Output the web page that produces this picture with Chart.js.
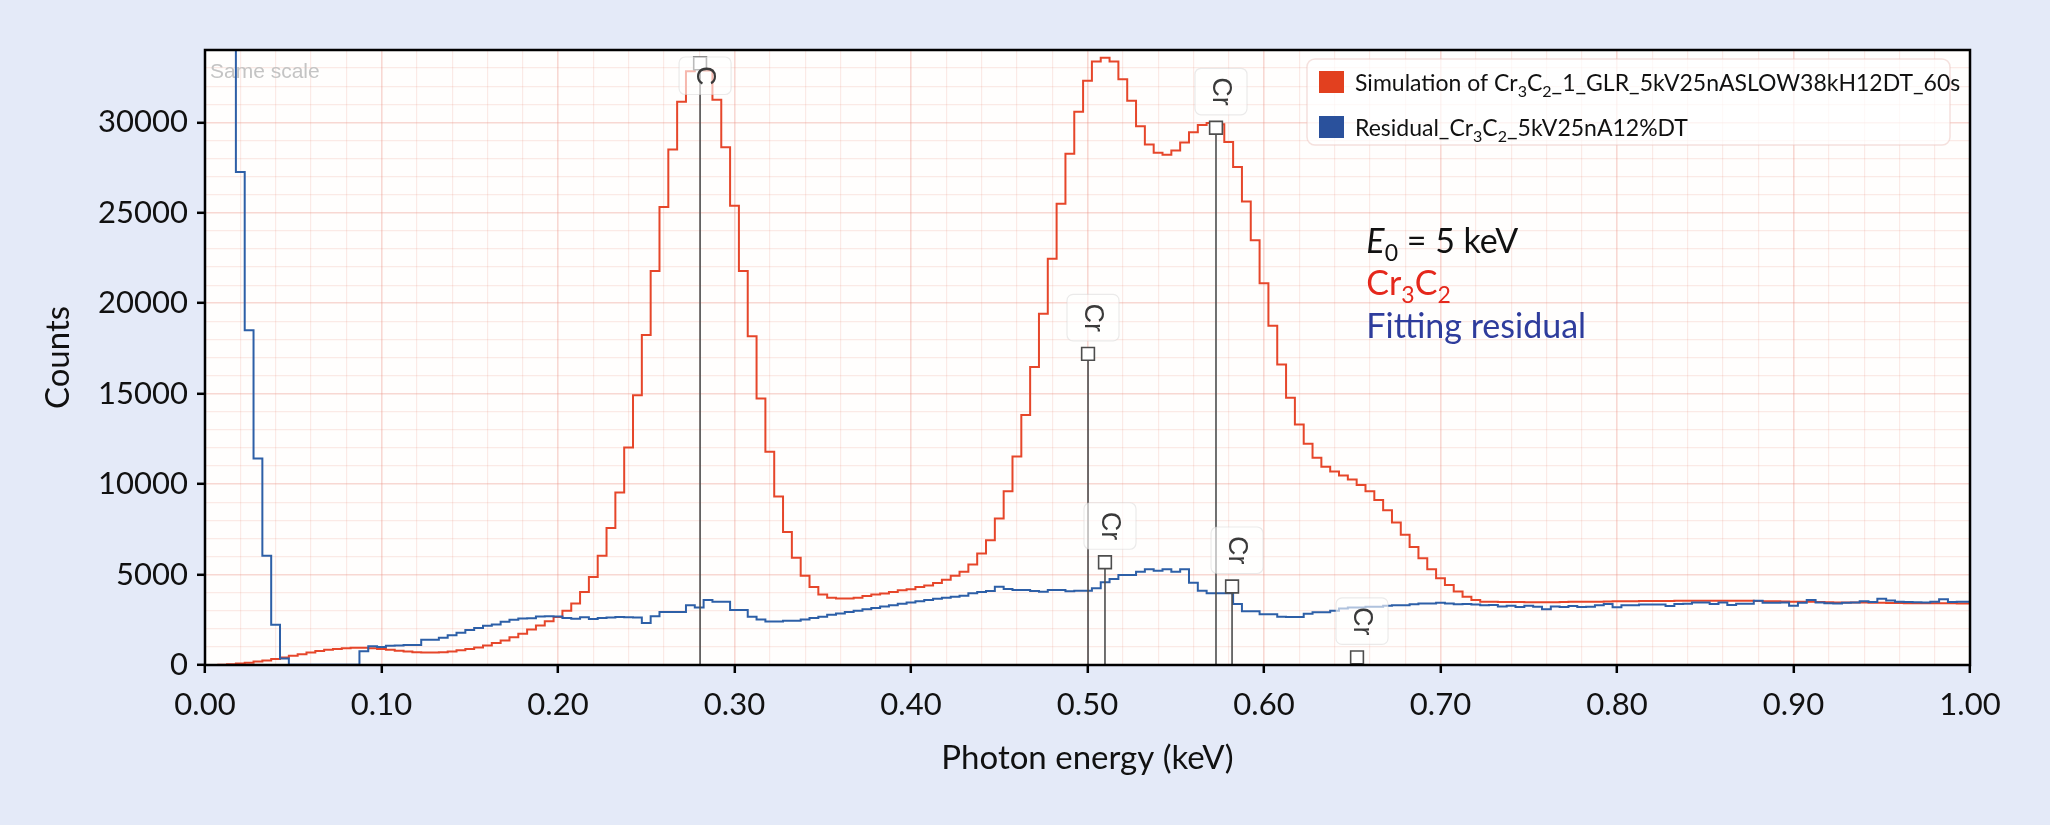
<!DOCTYPE html>
<html><head><meta charset="utf-8">
<script src="https://cdn.jsdelivr.net/npm/chart.js@4.4.0/dist/chart.umd.min.js"></script>
<style>html,body{margin:0;padding:0;background:#e4eaf8;overflow:hidden}</style>
</head><body>
<canvas id="c" width="2050" height="825"></canvas>
<script>
// ---- data (bin centres in keV, 5 eV bins) ----
const energy = [
0.000,0.005,0.010,0.015,0.020,0.025,0.030,0.035,0.040,0.045,
0.050,0.055,0.060,0.065,0.070,0.075,0.080,0.085,0.090,0.095,
0.100,0.105,0.110,0.115,0.120,0.125,0.130,0.135,0.140,0.145,
0.150,0.155,0.160,0.165,0.170,0.175,0.180,0.185,0.190,0.195,
0.200,0.205,0.210,0.215,0.220,0.225,0.230,0.235,0.240,0.245,
0.250,0.255,0.260,0.265,0.270,0.275,0.280,0.285,0.290,0.295,
0.300,0.305,0.310,0.315,0.320,0.325,0.330,0.335,0.340,0.345,
0.350,0.355,0.360,0.365,0.370,0.375,0.380,0.385,0.390,0.395,
0.400,0.405,0.410,0.415,0.420,0.425,0.430,0.435,0.440,0.445,
0.450,0.455,0.460,0.465,0.470,0.475,0.480,0.485,0.490,0.495,
0.500,0.505,0.510,0.515,0.520,0.525,0.530,0.535,0.540,0.545,
0.550,0.555,0.560,0.565,0.570,0.575,0.580,0.585,0.590,0.595,
0.600,0.605,0.610,0.615,0.620,0.625,0.630,0.635,0.640,0.645,
0.650,0.655,0.660,0.665,0.670,0.675,0.680,0.685,0.690,0.695,
0.700,0.705,0.710,0.715,0.720,0.725,0.730,0.735,0.740,0.745,
0.750,0.755,0.760,0.765,0.770,0.775,0.780,0.785,0.790,0.795,
0.800,0.805,0.810,0.815,0.820,0.825,0.830,0.835,0.840,0.845,
0.850,0.855,0.860,0.865,0.870,0.875,0.880,0.885,0.890,0.895,
0.900,0.905,0.910,0.915,0.920,0.925,0.930,0.935,0.940,0.945,
0.950,0.955,0.960,0.965,0.970,0.975,0.980,0.985,0.990,0.995,
1.000];

const simulation = [
0,5,15,40,80,130,190,250,330,420,
510,600,690,770,840,890,930,950,950,930,
890,840,790,740,710,690,690,710,750,810,
880,970,1080,1210,1360,1530,1730,1960,2180,2420,
2660,3000,3400,4040,4870,6040,7580,9540,12020,14910,
18250,21780,25320,28500,31140,32830,33440,32870,31250,28620,
25390,21780,18170,14730,11790,9310,7350,5930,4940,4310,
3900,3720,3680,3680,3720,3810,3900,3950,4040,4130,
4190,4310,4400,4530,4710,4940,5160,5550,6160,6900,
8100,9610,11520,13820,16480,19420,22460,25500,28260,30580,
32300,33370,33570,33370,32380,31190,29790,28770,28320,28210,
28440,28890,29450,29850,29960,29900,28910,27530,25630,23480,
21100,18760,16610,14780,13300,12230,11460,10960,10700,10480,
10250,9950,9600,9120,8550,7880,7200,6520,5900,5300,
4800,4420,4060,3780,3600,3500,3490,3480,3480,3480,
3470,3470,3470,3470,3480,3490,3490,3500,3500,3510,
3520,3520,3530,3540,3540,3540,3540,3550,3550,3550,
3550,3550,3550,3550,3550,3550,3540,3530,3520,3510,
3500,3490,3490,3480,3470,3460,3460,3450,3450,3440,
3440,3430,3430,3420,3420,3420,3410,3410,3410,3400,
3400];

const residual = [
95000,80000,62000,44000,27260,18510,11410,6040,2230,360,
20,10,10,10,10,10,10,10,760,1040,
1000,1060,1080,1100,1110,1400,1400,1500,1650,1780,
1940,2050,2170,2240,2390,2500,2570,2580,2680,2690,
2680,2600,2560,2640,2550,2600,2620,2650,2640,2620,
2320,2700,2930,2930,2930,3310,3180,3590,3500,3500,
3040,3040,2670,2520,2410,2410,2450,2450,2520,2600,
2670,2780,2850,2930,3000,3080,3150,3230,3300,3380,
3460,3530,3590,3660,3720,3780,3830,3960,4030,4090,
4330,4200,4140,4140,4090,4050,4140,4140,4080,4110,
4110,4240,4570,4750,4970,4970,5160,5290,5210,5300,
5160,5290,4550,4110,3960,3960,3960,3370,2970,2970,
2800,2800,2670,2660,2660,2840,2910,2910,3000,3130,
3180,3180,3220,3220,3270,3310,3310,3360,3400,3400,
3440,3400,3360,3370,3340,3300,3320,3230,3270,3200,
3270,3220,3080,3230,3210,3260,3210,3220,3300,3370,
3190,3300,3310,3350,3350,3340,3260,3370,3380,3460,
3460,3370,3460,3320,3390,3380,3550,3440,3440,3450,
3270,3440,3590,3450,3410,3400,3440,3450,3530,3480,
3660,3560,3500,3480,3470,3450,3500,3640,3480,3490,
3500];

const seriesLabels = ['Simulation of Cr\u2083C\u2082_1_GLR_5kV25nASLOW38kH12DT_60s', 'Residual_Cr\u2083C\u2082_5kV25nA12%DT'];
const seriesColors = ['#e6462a', '#2d5fa7'];
const swatchColors = ['#e2401f', '#2a519c'];

const markerEnergy = [0.2805, 0.5003, 0.5099, 0.5728, 0.5819, 0.6527];
const markerHeight = [33260, 17200, 5680, 29700, 4340, 420];
const markerLabel  = ['C', 'Cr', 'Cr', 'Cr', 'Cr', 'Cr'];

const yTickLabels = [0, 5000, 10000, 15000, 20000, 25000, 30000];
const xTickLabels = ['0.00','0.10','0.20','0.30','0.40','0.50','0.60','0.70','0.80','0.90','1.00'];

const noteLines = ['E\u2080 = 5 keV', 'Cr\u2083C\u2082', 'Fitting residual'];
const noteColors = ['#111111', '#e5281c', '#2e3c9c'];
const noteEnergy = 0.658;
const noteCounts = [22760, 20440, 18070];
const cornerNote = 'Same scale';

// ---- helpers ----
const FAM = 'Lato, "Open Sans", sans-serif';
function isMajorX(v) { return Math.round(v * 100) % 10 === 0; }
function isMajorY(v) { return Math.round(v) % 5000 === 0; }

function drawRich(ctx, str, x, y, size) {
  // draw string, turning unicode subscript digits into lowered small digits
  let cx = x; let run = ''; let runSub = null;
  const flush = () => {
    if (!run) return;
    if (runSub) {
      ctx.font = `${Math.round(size * 0.68)}px ${FAM}`;
      ctx.fillText(run, cx, y + size * 0.24);
    } else {
      ctx.font = `${size}px ${FAM}`;
      ctx.fillText(run, cx, y);
    }
    cx += ctx.measureText(run).width;
    run = '';
  };
  for (const ch of str) {
    const code = ch.charCodeAt(0);
    const sub = code >= 0x2080 && code <= 0x2089;
    const c = sub ? String(code - 0x2080) : ch;
    if (runSub === null) runSub = sub;
    if (sub !== runSub) { flush(); runSub = sub; }
    run += c;
  }
  flush();
  return cx;
}

const decor = {
  id: 'decor',
  beforeDraw(chart) {
    const {ctx, chartArea: a, width, height} = chart;
    ctx.save();
    ctx.fillStyle = '#e4eaf8';
    ctx.fillRect(0, 0, width, height);
    ctx.fillStyle = '#fffefd';
    ctx.fillRect(a.left, a.top, a.right - a.left, a.bottom - a.top);
    ctx.restore();
  },
  beforeDatasetsDraw(chart) {
    const {ctx, chartArea: a} = chart;
    ctx.save();
    ctx.font = '21px "Liberation Sans", Arial, sans-serif';
    ctx.fillStyle = '#c4c4c4';
    ctx.textBaseline = 'alphabetic';
    ctx.fillText(cornerNote, a.left + 5, a.top + 28);
    ctx.restore();
  },
  afterDatasetsDraw(chart) {
    const {ctx, chartArea: a, scales: {x, y}} = chart;
    ctx.save();
    // frame
    ctx.strokeStyle = '#000';
    ctx.lineWidth = 2.5;
    ctx.strokeRect(a.left, a.top, a.right - a.left, a.bottom - a.top);

    // element marker labels
    markerEnergy.forEach((e, i) => {
      const px = x.getPixelForValue(e);
      const py = y.getPixelForValue(markerHeight[i]);
      ctx.font = '27px "Liberation Sans", Arial, sans-serif';
      const tw = ctx.measureText(markerLabel[i]).width;
      const bw = 52, bh = tw + 18;
      let top = py - 13 - bh;
      if (top < a.top + 7) top = a.top + 7;
      const cx = px + 5;
      ctx.beginPath();
      ctx.roundRect(cx - bw / 2, top, bw, bh, 6);
      ctx.fillStyle = 'rgba(255,255,255,0.62)';
      ctx.fill();
      ctx.strokeStyle = 'rgba(210,210,210,0.45)';
      ctx.lineWidth = 1.2;
      ctx.stroke();
      ctx.save();
      ctx.translate(px + 4, top + bh / 2);
      ctx.rotate(Math.PI / 2);
      ctx.fillStyle = '#3a3a3a';
      ctx.textAlign = 'center';
      ctx.textBaseline = 'middle';
      ctx.fillText(markerLabel[i], 0, 0);
      ctx.restore();
    });

    // legend box
    const lw = 643, lh = 86;
    const lx = a.right - 20 - lw, ly = a.top + 9;
    ctx.beginPath();
    ctx.roundRect(lx, ly, lw, lh, 8);
    ctx.fillStyle = 'rgba(255,255,255,0.72)';
    ctx.fill();
    ctx.strokeStyle = 'rgba(235,195,190,0.5)';
    ctx.lineWidth = 1.5;
    ctx.stroke();
    chart.data.datasets.slice(0, 2).forEach((ds, i) => {
      const rc = ly + 23 + i * 45;
      ctx.fillStyle = swatchColors[i];
      ctx.fillRect(lx + 12, rc - 11, 25, 22);
      ctx.fillStyle = '#111';
      ctx.textAlign = 'left';
      ctx.textBaseline = 'alphabetic';
      drawRich(ctx, ds.label, lx + 48, rc + 9, 23);
    });

    // annotation text
    const ax = x.getPixelForValue(noteEnergy);
    ctx.textAlign = 'left';
    ctx.textBaseline = 'alphabetic';
    noteLines.forEach((t, i) => {
      const by = y.getPixelForValue(noteCounts[i]);
      ctx.fillStyle = noteColors[i];
      if (i === 0) {
        ctx.font = `italic 34px ${FAM}`;
        ctx.fillText(t[0], ax, by);
        const cx = ax + ctx.measureText(t[0]).width;
        drawRich(ctx, t.slice(1), cx, by, 34);
      } else {
        drawRich(ctx, t, ax, by, 34);
      }
    });
    ctx.restore();
  }
};

const datasets = [
  {
    label: seriesLabels[0],
    data: energy.map((e, i) => ({x: e, y: simulation[i]})),
    borderColor: seriesColors[0], borderWidth: 2, pointRadius: 0,
    stepped: 'middle', fill: false, order: 3
  },
  {
    label: seriesLabels[1],
    data: energy.map((e, i) => ({x: e, y: residual[i]})),
    borderColor: seriesColors[1], borderWidth: 2, pointRadius: 0,
    stepped: 'middle', fill: false, order: 2
  }
];
markerEnergy.forEach((e, i) => {
  datasets.push({
    label: markerLabel[i] + ' line',
    data: [{x: e, y: 0}, {x: e, y: markerHeight[i]}],
    borderColor: '#4d4d4d', borderWidth: 1.6,
    pointRadius: [0, 9], pointStyle: 'rect',
    pointBackgroundColor: '#ffffff', pointBorderColor: '#4d4d4d', pointBorderWidth: 1.6,
    order: 1
  });
});

Chart.defaults.font.family = FAM;
new Chart(document.getElementById('c'), {
  type: 'line',
  data: {datasets},
  plugins: [decor],
  options: {
    responsive: false,
    devicePixelRatio: 1,
    animation: false,
    layout: {padding: {left: 0, right: 80, top: 50, bottom: 0}},
    plugins: {legend: {display: false}, tooltip: {enabled: false}},
    scales: {
      x: {
        type: 'linear', min: 0, max: 1,
        afterFit: s => { s.height = 160; },
        border: {display: false},
        grid: {
          color: c => isMajorX(c.tick.value) ? 'rgba(235,150,135,0.36)' : 'rgba(235,150,135,0.19)',
          lineWidth: c => isMajorX(c.tick.value) ? 1.6 : 1.2,
          tickColor: c => isMajorX(c.tick.value) ? '#000' : 'rgba(0,0,0,0)',
          tickLength: 8, tickWidth: 2.5, drawTicks: true
        },
        ticks: {
          stepSize: 0.02, autoSkip: false, maxRotation: 0, padding: 13,
          color: '#111', font: {size: 31, family: FAM},
          callback: v => { const i = Math.round(v * 100); return i % 10 === 0 ? xTickLabels[i / 10] : ''; }
        },
        title: {display: true, text: 'Photon energy (keV)', color: '#111',
                font: {size: 33, family: FAM}, padding: {top: 0, bottom: 47}}
      },
      y: {
        type: 'linear', min: 0, max: 34000,
        afterFit: s => { s.width = 205; },
        border: {display: false},
        grid: {
          color: c => isMajorY(c.tick.value) ? 'rgba(235,150,135,0.36)' : 'rgba(235,150,135,0.19)',
          lineWidth: c => isMajorY(c.tick.value) ? 1.6 : 1.2,
          tickColor: c => isMajorY(c.tick.value) && c.tick.value <= 30000 ? '#000' : 'rgba(0,0,0,0)',
          tickLength: 8, tickWidth: 2.5, drawTicks: true
        },
        ticks: {
          stepSize: 1000, autoSkip: false, padding: 9,
          color: '#111', font: {size: 31, family: FAM},
          callback: v => yTickLabels.includes(v) ? String(v) : ''
        },
        title: {display: true, text: 'Counts', color: '#111',
                font: {size: 33, family: FAM}, padding: {top: 39, bottom: 0}}
      }
    }
  }
});
</script>
</body></html>
